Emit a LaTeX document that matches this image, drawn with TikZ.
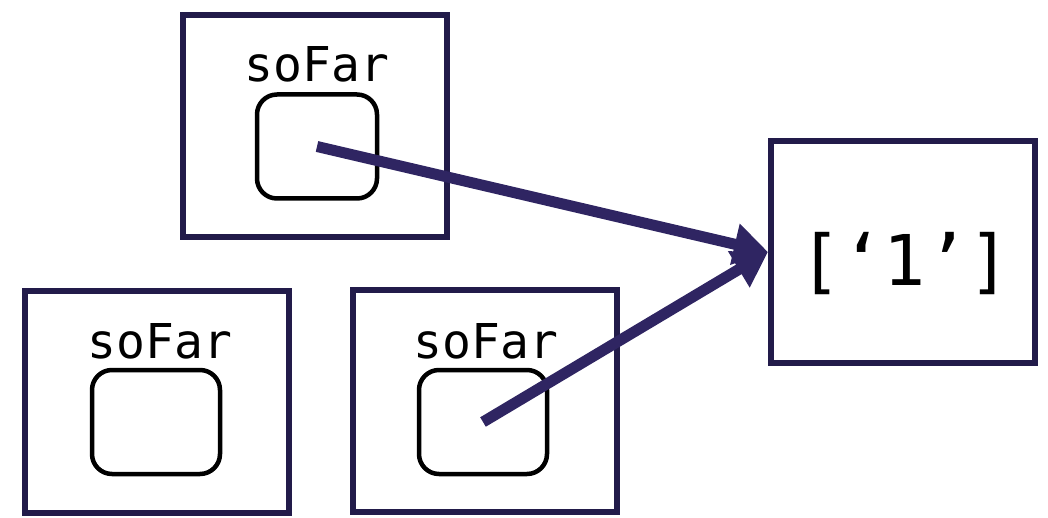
\documentclass[tikz,border=0pt]{standalone}
\usepackage{fontspec}
\setmonofont{DejaVu Sans Mono}
\usetikzlibrary{arrows.meta}
\definecolor{framecol}{HTML}{221B4A}
\definecolor{arrowcol}{HTML}{2F2562}
\tikzset{
  frame/.style={draw=framecol, line width=6pt, minimum width=264pt, minimum height=222pt, inner sep=0pt},
  slot/.style={draw=black, line width=4.5pt, rounded corners=20pt, minimum width=128pt, minimum height=104pt, inner sep=0pt},
  varname/.style={anchor=base, inner sep=0pt, font=\ttfamily\fontsize{48pt}{48pt}\selectfont},
  value/.style={inner sep=0pt, font=\ttfamily\fontsize{70pt}{70pt}\selectfont},
  pointer/.style={draw=arrowcol, line width=11pt, -{Triangle[length=34pt,width=40pt]}}
}
\begin{document}
\begin{tikzpicture}[x=1pt,y=-1pt]
  \useasboundingbox (0,0) rectangle (1048,518);
  % frames
  \node[frame] (f1) at (315,126.5) {};
  \node[frame] (f2) at (157,402) {};
  \node[frame] (f3) at (484.5,401) {};
  \node[frame] (list) at (903,252) {};
  % variable slots
  \node[slot, minimum width=120pt] (s1) at (317,146.5) {};
  \node[slot] (s2) at (156,422) {};
  \node[slot] (s3) at (483,422) {};
  % variable names
  \node[varname] (n1) at (317,82) {soFar};
  \node[varname] (n2) at (160,358) {soFar};
  \node[varname] (n3) at (486,358) {soFar};
  % list value
  \node[value] (v) at (905,264) {[‘1’]};
  % references
  \draw[pointer] (s1.center) -- (list.west);
  \draw[pointer] (s3.center) -- (list.west);
\end{tikzpicture}
\end{document}
